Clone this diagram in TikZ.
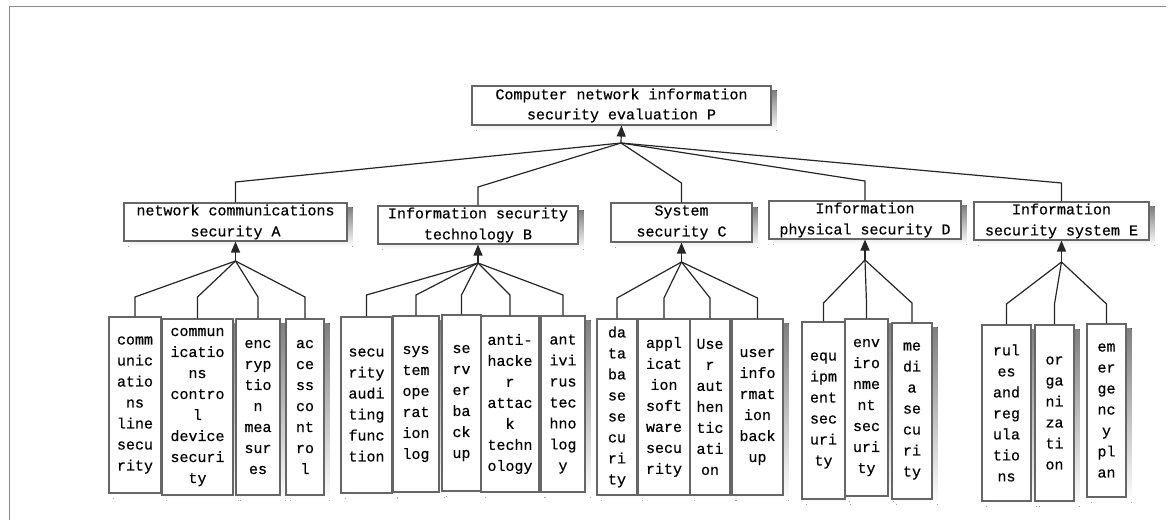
\documentclass[tikz,border=0pt]{standalone}
\usepackage{fontspec}
\newfontfamily\boxfont{Liberation Mono}[FakeBold=0.5]
\usetikzlibrary{arrows.meta,calc}
\definecolor{boxline}{HTML}{666666}
\definecolor{linkc}{HTML}{262626}
\definecolor{shade}{HTML}{D4D4D4}
\definecolor{framec}{HTML}{8C8C8C}
\pgfdeclarelayer{back}
\pgfsetlayers{back,main}

\begin{document}
\begin{tikzpicture}[x=1pt,y=-1pt,
  txt/.style={font=\boxfont\fontsize{15}{21}\selectfont},
  box/.style={txt, draw=boxline, fill=white, line width=1.1pt, inner sep=0pt,
    align=center},
  leaf/.style={box, minimum height=176pt},
  link/.style={draw=linkc, line width=1.2pt},
  up/.style={link, -{Triangle[length=11pt,width=9pt]}},
]
\useasboundingbox (0,0) rectangle (1171,520);
% outer frame (top and left edges)
\draw[framec, line width=1pt] (1166,6.5) -- (9.5,6.5) -- (9.5,520);

% root
\node[box, minimum width=299pt, minimum height=39pt,
  font=\boxfont\fontsize{15}{20}\selectfont] (P) at (621.5,105.5)
  {Computer network information\\security evaluation P};

% second level
\node[box, minimum width=223pt, minimum height=38pt] (A) at (235.5,222)
  {network communications\\security A};
\node[box, minimum width=200pt, minimum height=38pt] (B) at (478,225)
  {Information security\\technology B};
\node[box, minimum width=141pt, minimum height=39pt] (C) at (681.5,222.5)
  {System\\security C};
\node[box, minimum width=192pt, minimum height=38pt] (D) at (865,220)
  {Information\\physical security D};
\node[box, minimum width=175pt, minimum height=38pt] (E) at (1061.5,221)
  {Information\\security system E};

% leaves of A
\node[leaf, minimum width=52pt] (a1) at (135,405)
  {comm\\unic\\atio\\ns\\line\\secu\\rity};
\node[leaf, minimum width=71pt] (a2) at (197.5,407)
  {commun\\icatio\\ns\\contro\\l\\device\\securi\\ty};
\node[leaf, minimum width=44pt] (a3) at (258,407)
  {enc\\ryp\\tio\\n\\mea\\sur\\es};
\node[leaf, minimum width=38pt] (a4) at (305,407)
  {ac\\ce\\ss\\co\\nt\\ro\\l};

% leaves of B
\node[leaf, minimum width=51pt] (b1) at (366.5,405)
  {secu\\rity\\audi\\ting\\func\\tion};
\node[leaf, minimum width=46pt] (b2) at (416,404)
  {sys\\tem\\ope\\rat\\ion\\log};
\node[leaf, minimum width=39pt] (b3) at (461.5,403)
  {se\\rv\\er\\ba\\ck\\up};
\node[leaf, minimum width=58pt] (b4) at (510,404)
  {anti-\\hacke\\r\\attac\\k\\techn\\ology};
\node[leaf, minimum width=44pt] (b5) at (563,404)
  {ant\\ivi\\rus\\tec\\hno\\log\\y};

% leaves of C
\node[leaf, minimum width=40pt] (c1) at (617,407)
  {da\\ta\\ba\\se\\se\\cu\\ri\\ty};
\node[leaf, minimum width=52pt] (c2) at (664,407)
  {appl\\icat\\ion\\soft\\ware\\secu\\rity};
\node[leaf, minimum width=40pt] (c3) at (710,407)
  {Use\\r\\aut\\hen\\tic\\ati\\on};
\node[leaf, minimum width=51pt] (c4) at (757.5,407)
  {user\\info\\rmat\\ion\\back\\up};

% leaves of D
\node[leaf, minimum width=43pt, minimum height=177pt] (d1) at (823.5,410.5)
  {equ\\ipm\\ent\\sec\\uri\\ty};
\node[leaf, minimum width=43pt, minimum height=177pt] (d2) at (866.5,407.5)
  {env\\iro\\nme\\nt\\sec\\uri\\ty};
\node[leaf, minimum width=40pt] (d3) at (912,411)
  {me\\di\\a\\se\\cu\\ri\\ty};

% leaves of E
\node[leaf, minimum width=49pt] (e1) at (1006.5,413)
  {rul\\es\\and\\reg\\ula\\tio\\ns};
\node[leaf, minimum width=39pt] (e2) at (1054.5,413)
  {or\\ga\\ni\\za\\ti\\on};
\node[leaf, minimum width=39pt, minimum height=173pt] (e3) at (1106.5,410.5)
  {em\\er\\ge\\nc\\y\\pl\\an};

% drop shadows behind every box, offset right and down
\begin{pgfonlayer}{back}
\foreach \n in {P,A,B,C,D,E,a1,a2,a3,a4,b1,b2,b3,b4,b5,c1,c2,c3,c4,d1,d2,d3,e1,e2,e3}
  \fill[shade] ($(\n.south west)+(5,5)$) rectangle ($(\n.north east)+(5,5)$);
\end{pgfonlayer}

% junction points and bend levels
\coordinate (jP) at (621,143);
\coordinate (jA) at (235.5,261);
\coordinate (jB) at (478,263);
\coordinate (jC) at (681.5,262);
\coordinate (jD) at (865,260);
\coordinate (jE) at (1061.5,262);

\coordinate (hA) at (0,182);
\coordinate (hB) at (0,187);
\coordinate (hC) at (0,183);
\coordinate (hD) at (0,181);
\coordinate (hE) at (0,183);

\coordinate (lA) at (0,297);
\coordinate (lB) at (0,295);
\coordinate (lC) at (0,298);
\coordinate (lD) at (0,303);
\coordinate (lE) at (0,304);

% second level to root
\foreach \n in {A,B,C,D,E}
  \draw[link] (\n.north) -- (\n.north |- h\n) -- (jP);
\draw[up] (jP) -- (P.south);

% leaves to second level
\foreach \n in {a1,a2,a3,a4}
  \draw[link] (\n.north) -- (\n.north |- lA) -- (jA);
\foreach \n in {b1,b2,b3,b4,b5}
  \draw[link] (\n.north) -- (\n.north |- lB) -- (jB);
\foreach \n in {c1,c2,c3,c4}
  \draw[link] (\n.north) -- (\n.north |- lC) -- (jC);
\foreach \n in {d1,d2,d3}
  \draw[link] (\n.north) -- (\n.north |- lD) -- (jD);
\foreach \n in {e1,e2,e3}
  \draw[link] (\n.north) -- (\n.north |- lE) -- (jE);

\draw[up] (jA) -- (A.south);
\draw[up] (jB) -- (B.south);
\draw[up] (jC) -- (C.south);
\draw[up] (jD) -- (D.south);
\draw[up] (jE) -- (E.south);
\end{tikzpicture}
\end{document}
